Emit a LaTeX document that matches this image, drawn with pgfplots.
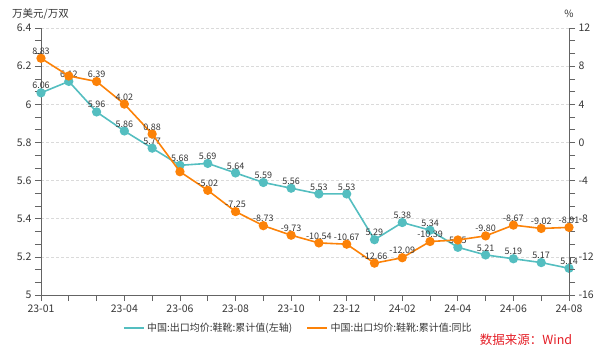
\documentclass[border=0pt]{standalone}
\usepackage{fontspec}
\setmainfont{Noto Sans CJK SC}
\usepackage{pgfplots}
\pgfplotsset{compat=1.18}
\definecolor{teal1}{RGB}{84,190,192}
\definecolor{org}{RGB}{252,130,8}
\definecolor{axgray}{RGB}{100,100,100}
\definecolor{txt}{RGB}{55,55,55}
\definecolor{gridc}{RGB}{218,218,218}
\definecolor{srcred}{RGB}{228,30,38}
\tikzset{lbl/.style={font=\fontsize{9bp}{10bp}\selectfont, text=txt, anchor=south, inner sep=1.5bp, yshift=1.5bp}}
\begin{document}
\begin{tikzpicture}
\useasboundingbox (0,0) rectangle (600bp,358bp);
\pgfplotsset{
  common/.style={
    at={(41bp,63bp)}, anchor=south west,
    scale only axis, width=528bp, height=267bp,
    xmin=0, xmax=19,
    axis line style={axgray, line width=0.8bp},
    tick style={axgray, line width=0.7bp},
    tick align=outside,
    major tick length=6bp, minor tick length=6bp,
    ticklabel style={font=\fontsize{10.5bp}{12bp}\selectfont, text=txt},
    /pgf/number format/assume math mode=true,
  }
}
\begin{axis}[common,
  axis x line*=bottom, axis y line*=left,
  ymin=5, ymax=6.4, ytick={5,5.2,5.4,5.6,5.8,6,6.2,6.4},
  yticklabels={5,5.2,5.4,5.6,5.8,6,6.2,6.4},
  minor y tick num=2,
  xtick={0,...,19},
  xticklabels={23-01,,,23-04,,23-06,,23-08,,23-10,,23-12,,24-02,,24-04,,24-06,,24-08},
  ymajorgrids, grid style={gridc, dash pattern=on 3bp off 2bp, line width=0.7bp},
  clip=false,
]
\addplot[teal1, line width=1.6bp, mark=*, mark size=3.8bp, mark options={fill=teal1, draw=teal1},
  nodes near coords, point meta=explicit symbolic, every node near coord/.style={lbl}]
coordinates {
(0,6.06) [6.06]
(1,6.12) [6.12]
(2,5.96) [5.96]
(3,5.86) [5.86]
(4,5.77) [5.77]
(5,5.68) [5.68]
(6,5.69) [5.69]
(7,5.64) [5.64]
(8,5.59) [5.59]
(9,5.56) [5.56]
(10,5.53) [5.53]
(11,5.53) [5.53]
(12,5.29) [5.29]
(13,5.38) [5.38]
(14,5.34) [5.34]
(15,5.25) [5.25]
(16,5.21) [5.21]
(17,5.19) [5.19]
(18,5.17) [5.17]
(19,5.14) [5.14]
};
\end{axis}
\begin{axis}[common,
  axis x line=none, axis y line*=right,
  ymin=-16, ymax=12, ytick={-16,-12,-8,-4,0,4,8,12},
  minor y tick num=2,
  clip=false,
  legend columns=2,
  legend cell align=left,
  legend style={draw=none, fill=none, at={(0.487,-0.124)}, anchor=center,
    font=\fontsize{10bp}{12bp}\selectfont, text=txt,
    /tikz/every even column/.append style={column sep=12bp}},
  legend image code/.code={\draw[#1, line width=2.5bp] (0bp,0bp) -- (20bp,0bp);},
]
\addlegendimage{teal1}
\addlegendentry{中国:出口均价:鞋靴:累计值(左轴)}
\addplot[org, line width=1.6bp, mark=*, mark size=3.8bp, mark options={fill=org, draw=org},
  nodes near coords, point meta=explicit symbolic, every node near coord/.style={lbl}]
coordinates {
(0,8.83) [8.83]
(1,6.97) []
(2,6.39) [6.39]
(3,4.02) [4.02]
(4,0.88) [0.88]
(5,-3.07) []
(6,-5.02) [-5.02]
(7,-7.25) [-7.25]
(8,-8.73) [-8.73]
(9,-9.73) [-9.73]
(10,-10.54) [-10.54]
(11,-10.67) [-10.67]
(12,-12.66) [-12.66]
(13,-12.09) [-12.09]
(14,-10.39) [-10.39]
(15,-10.23) []
(16,-9.80) [-9.80]
(17,-8.67) [-8.67]
(18,-9.02) [-9.02]
(19,-8.91) [-8.91]
};
\addlegendentry{中国:出口均价:鞋靴:累计值:同比}
\end{axis}
\node[anchor=west, font=\fontsize{10.5bp}{12bp}\selectfont, text=txt, inner sep=0] at (12bp,344bp) {万美元/万双};
\node[font=\fontsize{10bp}{12bp}\selectfont, text=txt, inner sep=0] at (569bp,344bp) {\%};
\node[font=\fontsize{12.5bp}{14bp}\selectfont, text=srcred, inner sep=0] at (526bp,18bp) {数据来源：Wind};
\end{tikzpicture}
\end{document}
